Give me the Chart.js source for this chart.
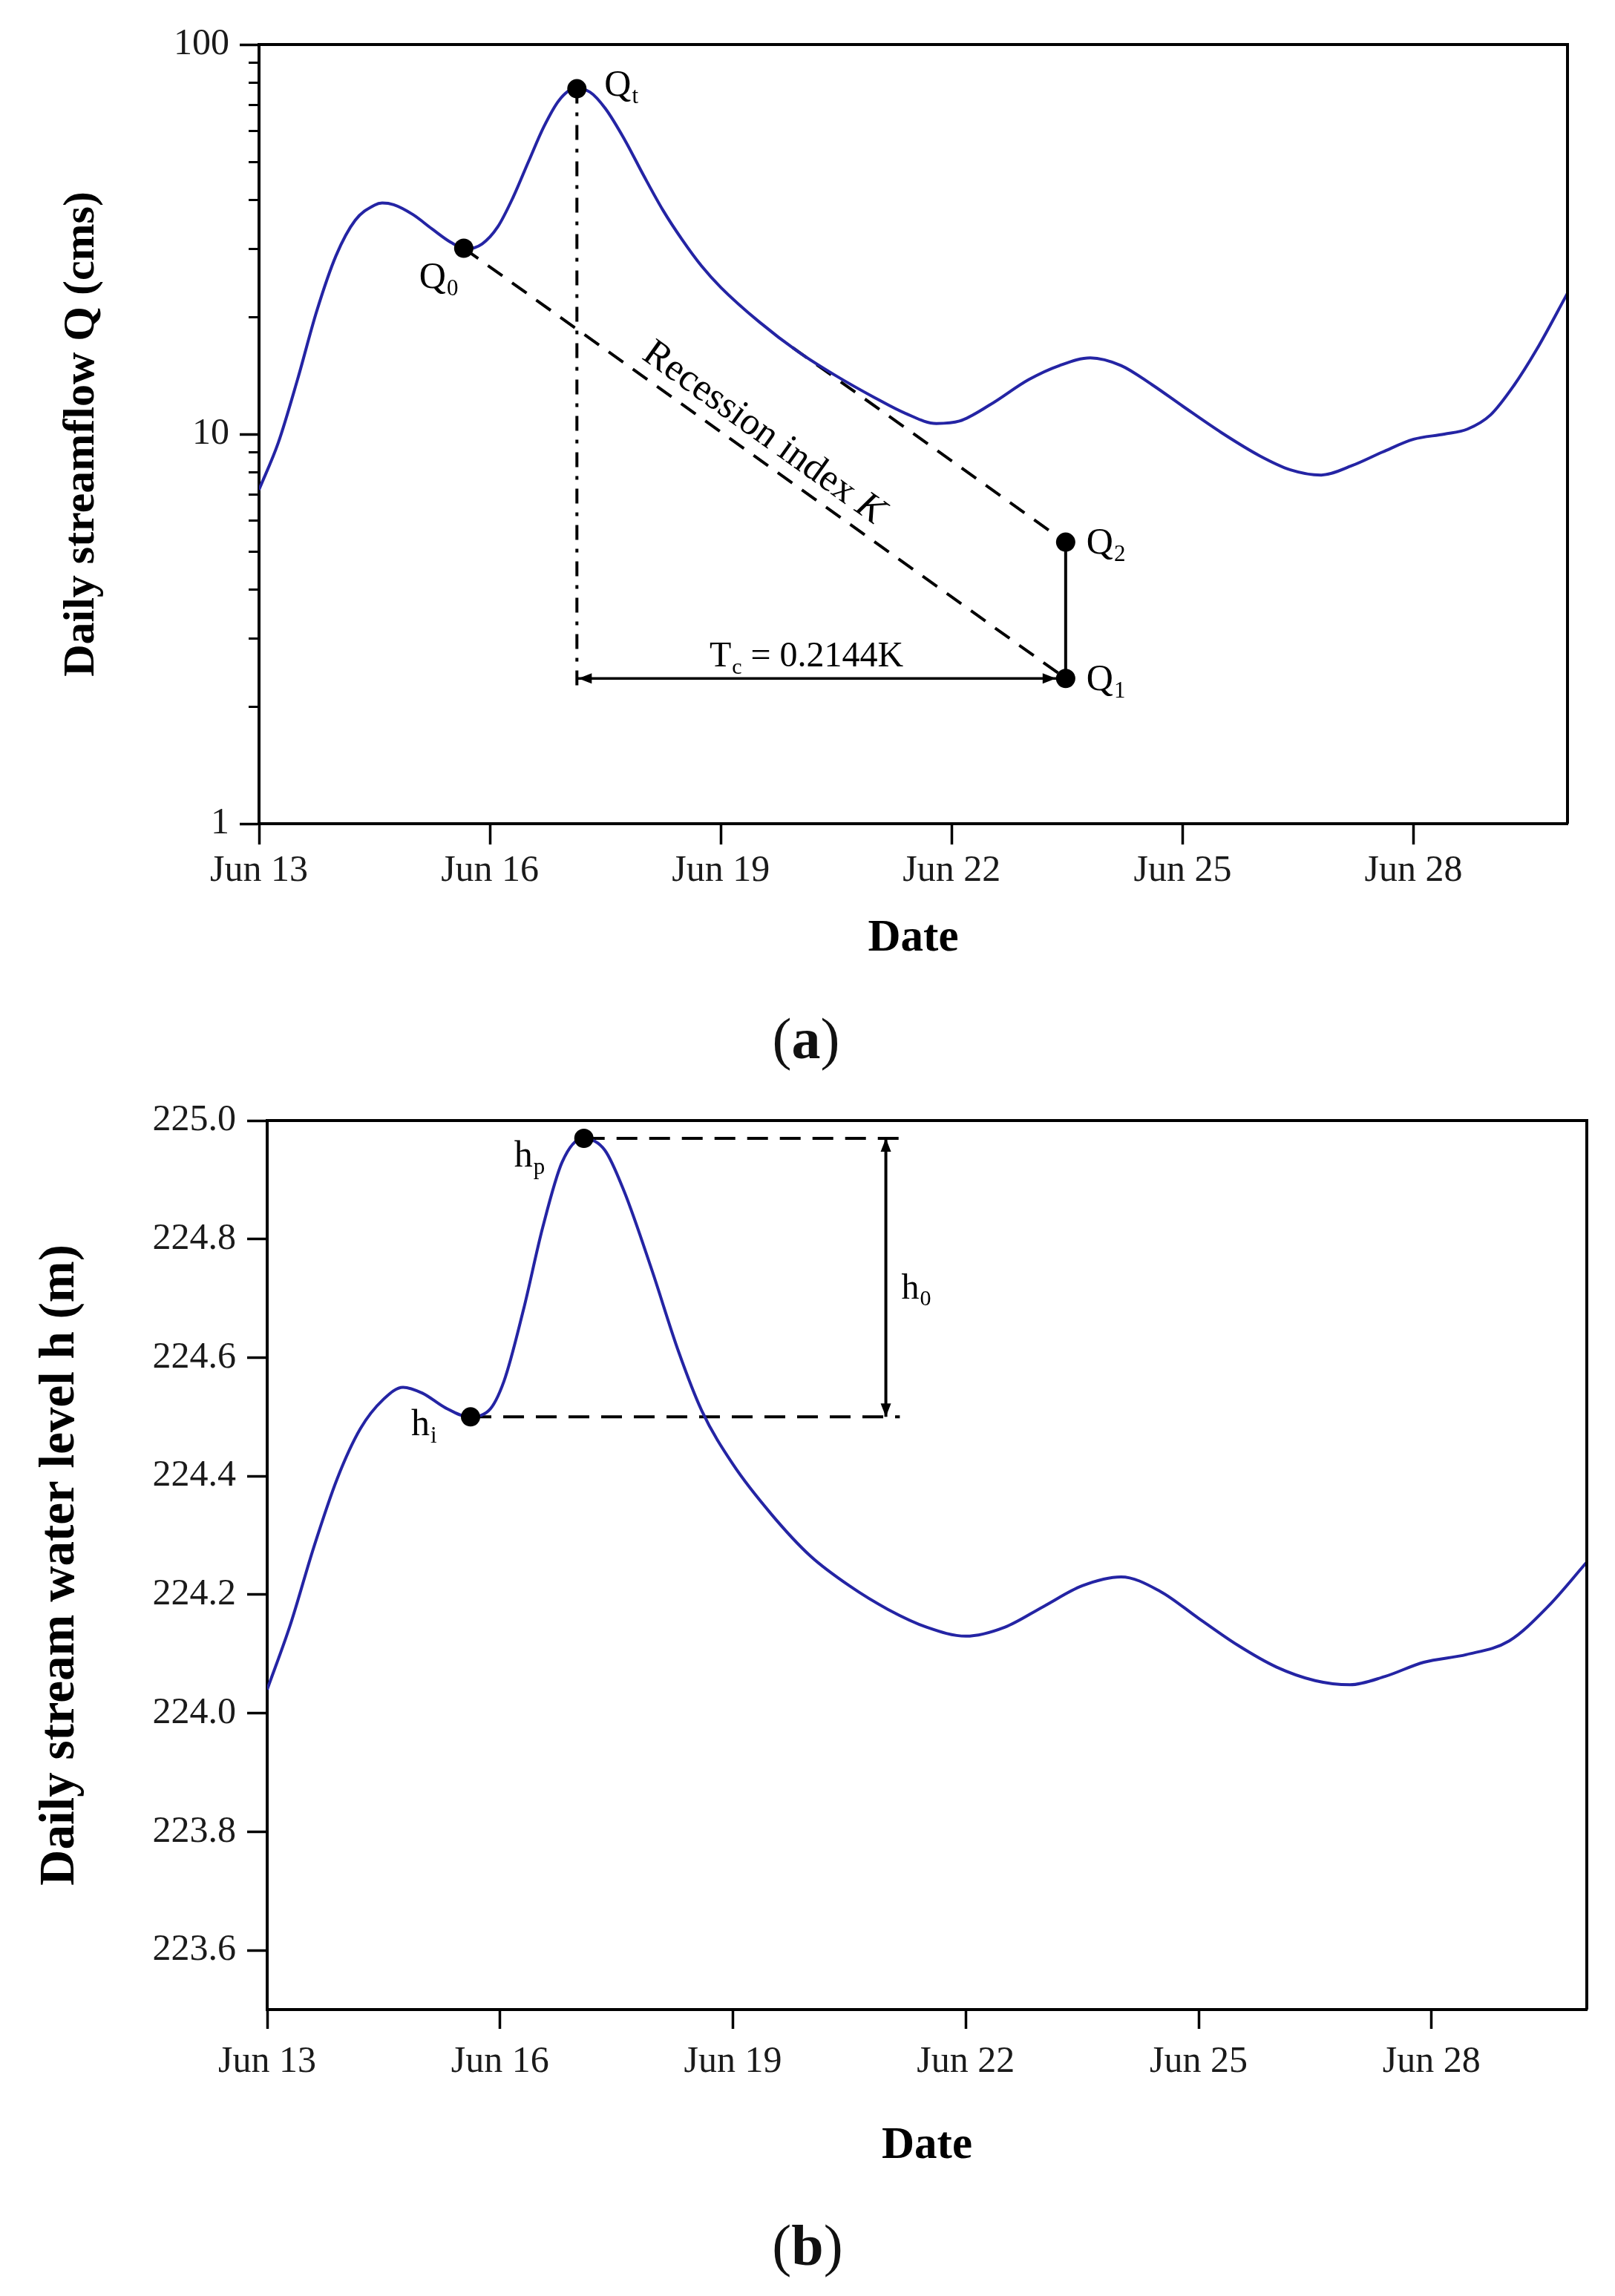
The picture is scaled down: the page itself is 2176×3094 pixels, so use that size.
<!DOCTYPE html>
<html>
<head>
<meta charset="utf-8">
<script src="https://cdn.jsdelivr.net/npm/chart.js@4.4.1/dist/chart.umd.min.js"></script>
<style>
  body { margin: 0; background: #fff; width: 2176px; height: 3094px; position: relative; overflow: hidden;
         font-family: "Liberation Serif", "Times New Roman", serif; color: #111; }
  #wa { position: absolute; left: 0; top: 0; width: 2176px; height: 1330px; }
  #wb { position: absolute; left: 0; top: 1450px; width: 2176px; height: 1500px; }
  .cap { position: absolute; font-size: 78px; line-height: 1; transform: translate(-50%, -50%); }
  .cap b { font-weight: bold; }
</style>
</head>
<body>
<div id="wa"><canvas id="chartA"></canvas></div>
<div class="cap" style="left:1086px; top:1400px;">(<b>a</b>)</div>
<div id="wb"><canvas id="chartB"></canvas></div>
<div class="cap" style="left:1088px; top:3026px;">(<b>b</b>)</div>
<script>
// days counted from Jun 13
const startDay = 13;
const xTickDays = [0, 3, 6, 9, 12, 15];

// (a) daily streamflow Q (cms)
const dayA = [0, 0.25, 0.5, 0.75, 1.0, 1.25, 1.5, 1.6, 1.75, 2.0, 2.25, 2.5, 2.7, 2.9, 3.1, 3.3, 3.5, 3.7, 3.9, 4.1,
  4.3, 4.5, 4.75, 5.0, 5.25, 5.5, 5.75, 6.0, 6.5, 7.0, 7.5, 8.0, 8.4, 8.8, 9.1, 9.5, 10.0, 10.4, 10.8, 11.2,
  11.6, 12.0, 12.5, 13.0, 13.4, 13.8, 14.2, 14.6, 15.0, 15.4, 15.7, 16.0, 16.3, 16.6, 17.0];
const flowA = [7.2, 9.5, 13.8, 20.7, 28.7, 35.4, 38.7, 39.2, 38.8, 36.6, 33.6, 31.0, 29.9, 30.8, 34.0, 40.5, 50.0, 61.5, 72.0, 77.0,
  75.5, 68.5, 57.0, 46.0, 37.5, 31.5, 27.0, 23.8, 19.4, 16.3, 14.1, 12.4, 11.3, 10.65, 10.8, 11.9, 13.8, 15.0, 15.7, 15.0,
  13.4, 11.8, 10.1, 8.8, 8.1, 7.85, 8.3, 9.0, 9.7, 10.0, 10.3, 11.2, 13.3, 16.5, 23.0];
const majorTicksA = [1, 10, 100];
const minorTicksA = [2, 3, 4, 5, 6, 7, 8, 9, 20, 30, 40, 50, 60, 70, 80, 90];
// marked points: Q0, Qt, Q1, Q2
const pointDaysA = [2.66, 4.13, 10.48, 10.48];
const pointFlowsA = [30, 77, 2.36, 5.28];
const recession2Start = { day: 6.93, flow: 16.7 };
const tcLineBottom = 2.26;

// (b) daily stream water level h (m)
const dayB = [0, 0.3, 0.6, 0.9, 1.2, 1.5, 1.75, 2.0, 2.3, 2.6, 2.85, 3.05, 3.3, 3.55, 3.8, 4.07, 4.35, 4.6, 4.95, 5.3,
  5.6, 6.0, 6.5, 7.0, 7.5, 8.0, 8.5, 9.0, 9.5, 10.0, 10.5, 11.0, 11.5, 12.0, 12.5, 13.0, 13.5, 13.95, 14.4, 14.9,
  15.45, 16.0, 16.5, 17.0];
const levelB = [224.04, 224.15, 224.28, 224.395, 224.48, 224.53, 224.55, 224.54, 224.515, 224.50, 224.51, 224.56, 224.68, 224.82, 224.93, 224.97, 224.95, 224.88, 224.75, 224.61,
  224.51, 224.42, 224.335, 224.265, 224.215, 224.175, 224.145, 224.13, 224.145, 224.18, 224.215, 224.23, 224.206, 224.16, 224.115, 224.078, 224.055, 224.048, 224.062, 224.086,
  224.099, 224.122, 224.18, 224.255];
const yTicksB = [223.6, 223.8, 224.0, 224.2, 224.4, 224.6, 224.8, 225.0];
// marked points: hi, hp
const pointDaysB = [2.62, 4.08];
const pointLevelsB = [224.50, 224.97];
const hLineEnd = [8.15, 8.19];
const hArrowDay = 7.97;

const FONT = '"Liberation Serif", "Times New Roman", serif';
const BLUE = '#2424a4';
Chart.defaults.font.family = FONT;
Chart.defaults.color = '#1a1a1a';

function pts(xs, ys) { return xs.map((d, i) => ({ x: d, y: ys[i] })); }

function subText(ctx, base, sub, x, y, size) {
  ctx.font = size + 'px ' + FONT;
  ctx.fillText(base, x, y);
  const w = ctx.measureText(base).width;
  ctx.font = Math.round(size * 0.62) + 'px ' + FONT;
  ctx.fillText(sub, x + w + 1, y + size * 0.2);
  return w + ctx.measureText(sub).width;
}

function arrowHead(ctx, x, y, dx, dy, len, half) {
  ctx.beginPath();
  ctx.moveTo(x, y);
  ctx.lineTo(x - dx * len - dy * half, y - dy * len + dx * half);
  ctx.lineTo(x - dx * len + dy * half, y - dy * len - dx * half);
  ctx.closePath();
  ctx.fill();
}

const framePlugin = {
  id: 'frame',
  afterDraw(chart) {
    const { ctx, chartArea: a } = chart;
    ctx.save();
    ctx.strokeStyle = '#000';
    ctx.lineWidth = 4;
    ctx.beginPath();
    ctx.moveTo(a.left, a.top);
    ctx.lineTo(a.right, a.top);
    ctx.lineTo(a.right, a.bottom);
    ctx.stroke();
    ctx.restore();
  }
};

function xScale(titlePadBottom, tickPad, tickLen, height) {
  return {
    type: 'linear', min: 0, max: 17,
    afterBuildTicks: s => { s.ticks = xTickDays.map(v => ({ value: v })); },
    afterFit: s => { s.height = height; },
    border: { display: true, color: '#000', width: 4 },
    grid: { drawOnChartArea: false, drawTicks: true, tickLength: tickLen, tickWidth: 3.5, tickColor: '#000' },
    ticks: { font: { size: 50 }, padding: tickPad, maxRotation: 0, callback: v => 'Jun ' + (startDay + v) },
    title: { display: true, text: 'Date', color: '#000', font: { size: 61, weight: 'bold' },
             padding: { top: 0, bottom: titlePadBottom } }
  };
}

// ---------- chart (a) ----------
const annotA = {
  id: 'annotA',
  afterDatasetsDraw(chart) {
    const { ctx, scales: { x, y } } = chart;
    const px = i => x.getPixelForValue(pointDaysA[i]);
    const py = i => y.getPixelForValue(pointFlowsA[i]);
    ctx.save();
    ctx.fillStyle = '#000';
    ctx.textBaseline = 'alphabetic';
    ctx.textAlign = 'left';
    // Tc arrow heads
    const ay = py(2);
    arrowHead(ctx, px(1) + 2, ay, -1, 0, 18, 7);
    arrowHead(ctx, px(2) - 13, ay, 1, 0, 18, 7);
    // point labels
    subText(ctx, 'Q', '0', px(0) - 60, py(0) + 53, 50);
    subText(ctx, 'Q', 't', px(1) + 37, py(1) + 9, 50);
    subText(ctx, 'Q', '1', px(2) + 28, py(2) + 16, 50);
    subText(ctx, 'Q', '2', px(3) + 28, py(3) + 15, 50);
    // Tc label
    const size = 48;
    ctx.font = size + 'px ' + FONT;
    const wT = ctx.measureText('T').width;
    const rest = ' = 0.2144K';
    const wR = ctx.measureText(rest).width;
    ctx.font = Math.round(size * 0.62) + 'px ' + FONT;
    const wC = ctx.measureText('c').width;
    const tot = wT + wC + 1 + wR;
    const tx = (px(1) + px(2)) / 2 - 20 - tot / 2;
    const w0 = subText(ctx, 'T', 'c', tx, ay - 16, size);
    ctx.font = size + 'px ' + FONT;
    ctx.fillText(rest, tx + w0 + 1, ay - 16);
    // recession label along the first dashed line
    const x0 = px(0), y0 = py(0), x1 = px(2), y1 = py(2);
    const ang = Math.atan2(y1 - y0, x1 - x0);
    const t = 0.475;
    const cx = x0 + (x1 - x0) * t + Math.sin(ang) * 32;
    const cy = y0 + (y1 - y0) * t - Math.cos(ang) * 32;
    ctx.translate(cx, cy);
    ctx.rotate(ang);
    ctx.textBaseline = 'middle';
    ctx.font = '52px ' + FONT;
    const s1 = 'Recession index ';
    const w1 = ctx.measureText(s1).width;
    ctx.font = 'italic 52px ' + FONT;
    const w2 = ctx.measureText('K').width;
    ctx.font = '52px ' + FONT;
    ctx.fillText(s1, -(w1 + w2) / 2, 0);
    ctx.font = 'italic 52px ' + FONT;
    ctx.fillText('K', -(w1 + w2) / 2 + w1, 0);
    ctx.restore();
  }
};

const minorTicks = {
  id: 'minorTicks',
  afterDraw(chart) {
    const { ctx, scales: { y }, chartArea: a } = chart;
    ctx.save();
    ctx.strokeStyle = '#000';
    ctx.lineWidth = 3;
    minorTicksA.forEach(v => {
      const yy = Math.round(y.getPixelForValue(v)) + 0.5;
      ctx.beginPath();
      ctx.moveTo(a.left - 14, yy);
      ctx.lineTo(a.left, yy);
      ctx.stroke();
    });
    ctx.restore();
  }
};

new Chart(document.getElementById('chartA'), {
  type: 'line',
  data: {
    datasets: [
      { data: pts(pointDaysA, pointFlowsA), showLine: false, pointRadius: 13, pointBackgroundColor: '#000',
        pointBorderWidth: 0, clip: false },
      { data: pts(dayA, flowA), borderColor: BLUE, borderWidth: 4, pointRadius: 0, cubicInterpolationMode: 'monotone' },
      { data: [{ x: pointDaysA[0], y: pointFlowsA[0] }, { x: pointDaysA[2], y: pointFlowsA[2] }],
        borderColor: '#000', borderWidth: 4, borderDash: [24, 16], pointRadius: 0 },
      { data: [{ x: recession2Start.day, y: recession2Start.flow }, { x: pointDaysA[3], y: pointFlowsA[3] }],
        borderColor: '#000', borderWidth: 4, borderDash: [24, 16], pointRadius: 0 },
      { data: [{ x: pointDaysA[1], y: pointFlowsA[1] }, { x: pointDaysA[1], y: tcLineBottom }],
        borderColor: '#000', borderWidth: 4, borderDash: [20, 12, 5, 12], pointRadius: 0 },
      { data: [{ x: pointDaysA[2], y: pointFlowsA[2] }, { x: pointDaysA[3], y: pointFlowsA[3] }],
        borderColor: '#000', borderWidth: 4, pointRadius: 0 },
      { data: [{ x: pointDaysA[1], y: pointFlowsA[2] }, { x: pointDaysA[2], y: pointFlowsA[2] }],
        borderColor: '#000', borderWidth: 3.5, pointRadius: 0 }
    ]
  },
  options: {
    responsive: true, maintainAspectRatio: false, animation: false, devicePixelRatio: 1, events: [],
    layout: { padding: { top: 60, right: 64, left: 0, bottom: 0 } },
    plugins: { legend: { display: false }, tooltip: { enabled: false } },
    scales: {
      x: xScale(28, 6, 28, 220),
      y: {
        type: 'logarithmic', min: 1, max: 100,
        afterBuildTicks: s => { s.ticks = majorTicksA.map(v => ({ value: v })); },
        afterFit: s => { s.width = 349; },
        border: { display: true, color: '#000', width: 4 },
        grid: { drawOnChartArea: false, drawTicks: true, tickLength: 26, tickWidth: 3.5, tickColor: '#000' },
        ticks: { font: { size: 50 }, padding: 14, callback: v => String(v) },
        title: { display: true, text: 'Daily streamflow Q (cms)', color: '#000', font: { size: 60, weight: 'bold' },
                 padding: { top: 74, bottom: 0 } }
      }
    }
  },
  plugins: [annotA, minorTicks, framePlugin]
});

// ---------- chart (b) ----------
const annotB = {
  id: 'annotB',
  afterDatasetsDraw(chart) {
    const { ctx, scales: { x, y } } = chart;
    const px = i => x.getPixelForValue(pointDaysB[i]);
    const py = i => y.getPixelForValue(pointLevelsB[i]);
    ctx.save();
    ctx.fillStyle = '#000';
    ctx.textAlign = 'left';
    ctx.textBaseline = 'alphabetic';
    const ax = x.getPixelForValue(hArrowDay);
    arrowHead(ctx, ax, py(1), 0, -1, 18, 7);
    arrowHead(ctx, ax, py(0), 0, 1, 18, 7);
    subText(ctx, 'h', 'p', px(1) - 94, py(1) + 38, 50);
    subText(ctx, 'h', 'i', px(0) - 80, py(0) + 25, 50);
    subText(ctx, 'h', '0', ax + 21, (py(0) + py(1)) / 2 + 28, 48);
    ctx.restore();
  }
};

new Chart(document.getElementById('chartB'), {
  type: 'line',
  data: {
    datasets: [
      { data: pts(pointDaysB, pointLevelsB), showLine: false, pointRadius: 13, pointBackgroundColor: '#000',
        pointBorderWidth: 0, clip: false },
      { data: pts(dayB, levelB), borderColor: BLUE, borderWidth: 4, pointRadius: 0, cubicInterpolationMode: 'monotone' },
      { data: [{ x: pointDaysB[1], y: pointLevelsB[1] }, { x: hLineEnd[1], y: pointLevelsB[1] }],
        borderColor: '#000', borderWidth: 4, borderDash: [28, 16], pointRadius: 0 },
      { data: [{ x: pointDaysB[0], y: pointLevelsB[0] }, { x: hLineEnd[0], y: pointLevelsB[0] }],
        borderColor: '#000', borderWidth: 4, borderDash: [28, 16], pointRadius: 0 },
      { data: [{ x: hArrowDay, y: pointLevelsB[1] }, { x: hArrowDay, y: pointLevelsB[0] }],
        borderColor: '#000', borderWidth: 4, pointRadius: 0 }
    ]
  },
  options: {
    responsive: true, maintainAspectRatio: false, animation: false, devicePixelRatio: 1, events: [],
    layout: { padding: { top: 60, right: 38, left: 0, bottom: 0 } },
    plugins: { legend: { display: false }, tooltip: { enabled: false } },
    scales: {
      x: xScale(21, 15, 26, 242),
      y: {
        type: 'linear', min: 223.5, max: 225.0,
        afterBuildTicks: s => { s.ticks = yTicksB.map(v => ({ value: v })); },
        afterFit: s => { s.width = 360; },
        border: { display: true, color: '#000', width: 4 },
        grid: { drawOnChartArea: false, drawTicks: true, tickLength: 27, tickWidth: 3.5, tickColor: '#000' },
        ticks: { font: { size: 50 }, padding: 15, callback: v => v.toFixed(1) },
        title: { display: true, text: 'Daily stream water level h (m)', color: '#000', font: { size: 67, weight: 'bold' },
                 padding: { top: 41, bottom: 0 } }
      }
    }
  },
  plugins: [annotB, framePlugin]
});
</script>
</body>
</html>
